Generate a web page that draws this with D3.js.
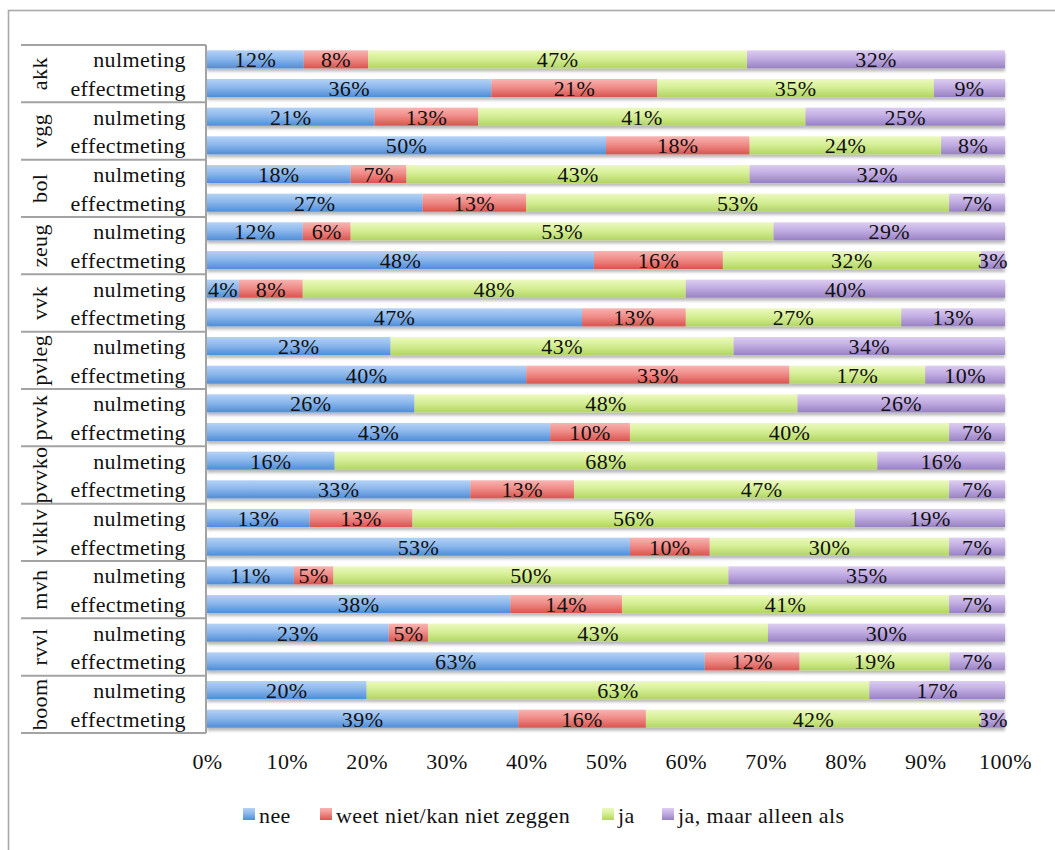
<!DOCTYPE html>
<html>
<head>
<meta charset="utf-8">
<script src="https://cdn.jsdelivr.net/npm/d3@7"></script>
<style>
  html, body { margin: 0; padding: 0; background: #fff; }
  svg { display: block; }
  text { font-family: "Liberation Serif", "Times New Roman", serif; fill: #111; }
</style>
</head>
<body>
<svg id="chart" width="1055" height="850"></svg>
<script>
// Groups (top to bottom) and the two measurements within each group
const groups = ["akk", "vgg", "bol", "zeug", "vvk", "pvleg", "pvvk", "pvvko", "vlklv", "mvh", "rvvl", "boom"];
const measurements = ["nulmeting", "effectmeting"];

// Answer categories, in stacking order
const answers = ["nee", "weet niet/kan niet zeggen", "ja", "ja, maar alleen als"];

// Percentages per answer, one entry per row (group × measurement, top to bottom)
const nee = [12, 36, 21, 50, 18, 27, 12, 48, 4, 47, 23, 40, 26, 43, 16, 33, 13, 53, 11, 38, 23, 63, 20, 39];
const weetNiet = [8, 21, 13, 18, 7, 13, 6, 16, 8, 13, 0, 33, 0, 10, 0, 13, 13, 10, 5, 14, 5, 12, 0, 16];
const ja = [47, 35, 41, 24, 43, 53, 53, 32, 48, 27, 43, 17, 48, 40, 68, 47, 56, 30, 50, 41, 43, 19, 63, 42];
const jaMaar = [32, 9, 25, 8, 32, 7, 29, 3, 40, 13, 34, 10, 26, 7, 16, 7, 19, 7, 35, 7, 30, 7, 17, 3];

// Axis tick values
const ticks = [0, 0.1, 0.2, 0.3, 0.4, 0.5, 0.6, 0.7, 0.8, 0.9, 1.0];

const seriesValues = [nee, weetNiet, ja, jaMaar];
const rows = [];
groups.forEach((g, gi) => measurements.forEach((m, mi) => {
  const i = gi * measurements.length + mi;
  const row = { key: g + "|" + m, group: g, measurement: m };
  answers.forEach((a, ai) => { row[a] = seriesValues[ai][i]; });
  rows.push(row);
}));

const svg = d3.select("#chart");
const W = 1055, H = 850;
const plotTop = 45, plotBottom = 733, plotLeft = 207, plotRight = 1005;
const fontSize = 22, spacing = 0.4;

// Outer frame
svg.append("rect")
  .attr("x", 8.5).attr("y", 10.5)
  .attr("width", W + 20).attr("height", H + 20)
  .attr("fill", "none").attr("stroke", "#a9a9a9").attr("stroke-width", 1.6);

// Gradients: lighter top, darker bottom
const colors = [
  ["#b4d2f6", "#8db8ec", "#4f8dd8"],
  ["#f8b4b1", "#f08d89", "#d9544f"],
  ["#ecf9c0", "#d6ef96", "#b2d564"],
  ["#dccdf0", "#c2ade3", "#9881c2"]
];
const defs = svg.append("defs");
colors.forEach((c, i) => {
  const lg = defs.append("linearGradient")
    .attr("id", "grad" + i).attr("x1", 0).attr("y1", 0).attr("x2", 0).attr("y2", 1);
  lg.append("stop").attr("offset", "0%").attr("stop-color", c[0]);
  lg.append("stop").attr("offset", "45%").attr("stop-color", c[1]);
  lg.append("stop").attr("offset", "100%").attr("stop-color", c[2]);
});
const shadow = defs.append("filter").attr("id", "shadow")
  .attr("x", "-5%").attr("y", "-5%").attr("width", "110%").attr("height", "115%");
shadow.append("feDropShadow")
  .attr("dx", 0).attr("dy", 3).attr("stdDeviation", 1.6)
  .attr("flood-color", "#000").attr("flood-opacity", 0.28);

// Scales
const x = d3.scaleLinear().domain([0, 1]).range([plotLeft, plotRight]);
const y = d3.scaleBand().domain(rows.map(d => d.key)).range([plotTop, plotBottom])
  .paddingInner(0.37).paddingOuter(0.185);
const yGroup = d3.scaleBand().domain(groups).range([plotTop, plotBottom]).padding(0);

// 100% stacked layout
const stack = d3.stack().keys(answers).offset(d3.stackOffsetExpand);
const series = stack(rows);

// Bars
const barLayer = svg.append("g").attr("filter", "url(#shadow)");
series.forEach((s, si) => {
  barLayer.append("g").attr("fill", "url(#grad" + si + ")")
    .selectAll("rect").data(s).join("rect")
    .attr("x", d => x(d[0]))
    .attr("y", d => y(d.data.key))
    .attr("width", d => Math.max(0, x(d[1]) - x(d[0])))
    .attr("height", y.bandwidth());
});

// Value labels
const labelLayer = svg.append("g");
series.forEach((s, si) => {
  labelLayer.append("g").selectAll("text")
    .data(s.filter(d => d.data[s.key] > 0)).join("text")
    .attr("x", d => (x(d[0]) + x(d[1])) / 2)
    .attr("y", d => y(d.data.key) + y.bandwidth() / 2 + 8)
    .attr("text-anchor", "middle")
    .attr("font-size", fontSize)
    .attr("letter-spacing", spacing)
    .text(d => d.data[s.key] + "%");
});

// Category axis: vertical line and group dividers
const axisColor = "#a3a3a3";
svg.append("line")
  .attr("x1", plotLeft - 1).attr("x2", plotLeft - 1)
  .attr("y1", plotTop).attr("y2", plotBottom)
  .attr("stroke", axisColor).attr("stroke-width", 2);
const dividers = [plotTop].concat(groups.map(g => yGroup(g) + yGroup.bandwidth()));
svg.append("g").selectAll("line").data(dividers).join("line")
  .attr("x1", 21).attr("x2", plotLeft - 1)
  .attr("y1", d => d).attr("y2", d => d)
  .attr("stroke", axisColor).attr("stroke-width", 2);

// Measurement labels
svg.append("g").selectAll("text").data(rows).join("text")
  .attr("x", 186)
  .attr("y", d => y(d.key) + y.bandwidth() / 2 + 8)
  .attr("text-anchor", "end")
  .attr("font-size", fontSize)
  .attr("letter-spacing", spacing)
  .text(d => d.measurement);

// Group labels, rotated
svg.append("g").selectAll("text").data(groups).join("text")
  .attr("transform", g => `translate(47,${yGroup(g) + yGroup.bandwidth() / 2}) rotate(-90)`)
  .attr("text-anchor", "middle")
  .attr("font-size", fontSize)
  .attr("letter-spacing", spacing)
  .text(g => g);

// Value axis tick labels
const xAxis = d3.axisBottom(x).tickValues(ticks).tickFormat(d3.format(".0%")).tickSize(0).tickPadding(0);
const xg = svg.append("g").attr("transform", "translate(0,753)").call(xAxis);
xg.select(".domain").remove();
xg.selectAll("text")
  .attr("font-size", fontSize)
  .attr("letter-spacing", spacing)
  .attr("dy", "0.71em")
  .style("font-family", "'Liberation Serif', serif")
  .attr("fill", "#111");

// Legend
const legendItems = [
  { label: answers[0], x: 243 },
  { label: answers[1], x: 320 },
  { label: answers[2], x: 602 },
  { label: answers[3], x: 662 }
];
const legend = svg.append("g");
legendItems.forEach((it, i) => {
  legend.append("rect")
    .attr("x", it.x).attr("y", 808).attr("width", 12).attr("height", 12)
    .attr("fill", "url(#grad" + i + ")");
  legend.append("text")
    .attr("x", it.x + 16).attr("y", 823)
    .attr("font-size", fontSize)
    .attr("letter-spacing", spacing)
    .text(it.label);
});
</script>
</body>
</html>
